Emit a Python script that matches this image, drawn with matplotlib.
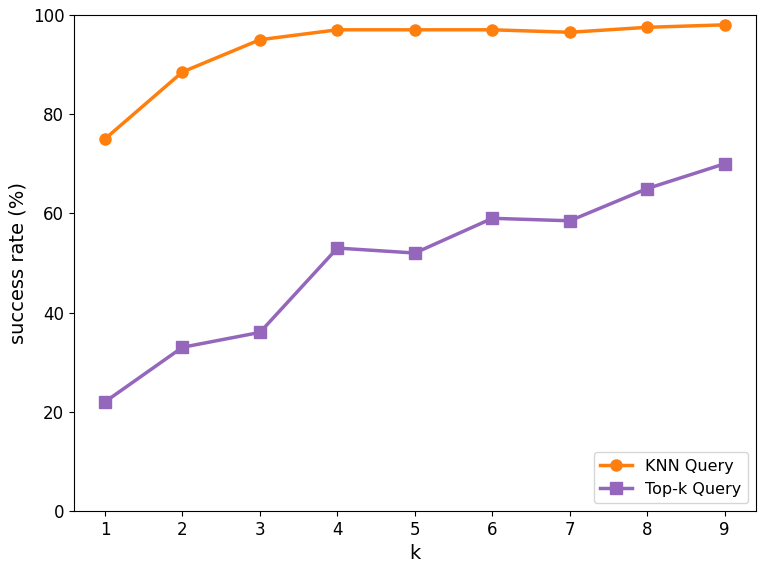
import matplotlib
matplotlib.use("Agg")
import matplotlib.pyplot as plt

k = [1, 2, 3, 4, 5, 6, 7, 8, 9]
knn_rate = [75, 88.5, 95, 97, 97, 97, 96.5, 97.5, 98]
topk_rate = [22, 33, 36, 53, 52, 59, 58.5, 65, 70]

fig = plt.figure(figsize=(7.66, 5.65), dpi=100)
ax = fig.add_axes([0.0966, 0.0956, 0.890, 0.878])
ax.plot(k, knn_rate, color="#ff7f0e", marker="o", markersize=8, linewidth=2.5, label="KNN Query")
ax.plot(k, topk_rate, color="#9467bd", marker="s", markersize=8, linewidth=2.5, label="Top-k Query")
ax.set_ylim(0, 100)
ax.set_xticks(k)
ax.tick_params(labelsize=12)
ax.set_xlabel("k", fontsize=14)
ax.set_ylabel("success rate (%)", fontsize=14)
ax.legend(loc="lower right", fontsize=11.5)
fig.savefig("out.png", dpi=100)
